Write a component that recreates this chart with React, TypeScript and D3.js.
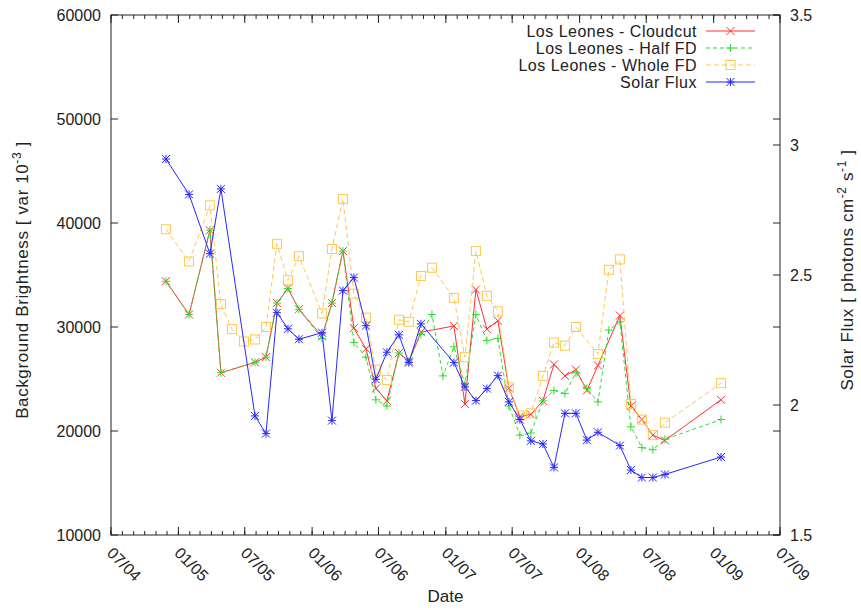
import React from "react";
import * as d3 from "d3";

// Observation months (one entry per data-taking period)
const obsDates = [
  "2004-11-28", "2005-01-30", "2005-03-28", "2005-04-27", "2005-05-27", "2005-06-29",
  "2005-07-29", "2005-08-28", "2005-09-27", "2005-10-27", "2005-11-26", "2006-01-28",
  "2006-02-24", "2006-03-26", "2006-04-25", "2006-05-28", "2006-06-24", "2006-07-24",
  "2006-08-26", "2006-09-22", "2006-10-25", "2006-11-24", "2006-12-24", "2007-01-23",
  "2007-02-22", "2007-03-24", "2007-04-23", "2007-05-23", "2007-06-22", "2007-07-22",
  "2007-08-21", "2007-09-23", "2007-10-23", "2007-11-22", "2007-12-22", "2008-01-21",
  "2008-02-20", "2008-03-21", "2008-04-20", "2008-05-20", "2008-06-19", "2008-07-19",
  "2008-08-21", "2009-01-21",
];

// Background brightness [var 10^-3], null where a period has no value
const cloudcut: (number | null)[] = [
  34400, 31200, 39300, 25600, null, null, 26600, 27100, 32300, 33700, 31700, 29100,
  32300, 37300, 29900, 27900, 24100, 22900, 27500, 26700, 29500, null, null, 30100,
  22600, 33600, 29800, 30600, 24100, 21400, 21600, 22900, 26400, 25300, 25900, 23900,
  26300, null, 31100, 22400, 21100, 19600, 19100, 23000,
];
const halfFD: (number | null)[] = [
  34400, 31200, 39300, 25600, null, null, 26600, 27100, 32300, 33700, 31700, 28900,
  32300, 37300, 28500, 27100, 23000, 22400, 27500, 26700, 29300, 31200, 25300, 28100,
  24500, 31200, 28700, 28900, 22400, 19600, 19800, 22900, 23900, 23600, 25600, 24100,
  22800, 29700, 30500, 20400, 18400, 18200, 19200, 21100,
];
const wholeFD: (number | null)[] = [
  39400, 36300, 41700, 32200, 29800, 28600, 28800, 30000, 38000, 34500, 36800, 31300,
  37500, 42300, 33200, 30900, 25900, 24900, 30700, 30500, 34900, 35700, null, 32800,
  27100, 37300, 33000, 31500, 24200, 21500, 21700, 25300, 28500, 28200, 30000, null,
  27400, 35500, 36500, 22600, 21100, 19600, 20800, 24600,
];
// Solar flux [photons cm^-2 s^-1]
const solarFlux: (number | null)[] = [
  2.946, 2.81, 2.582, 2.831, null, null, 1.958, 1.89, 2.355, 2.293, 2.253, 2.278,
  1.94, 2.44, 2.49, 2.305, 2.099, 2.203, 2.27, 2.163, 2.312, null, null, 2.163,
  2.07, 2.017, 2.063, 2.113, 2.012, 1.944, 1.862, 1.85, 1.76, 1.968, 1.968, 1.865,
  1.895, null, 1.844, 1.75, 1.721, 1.721, 1.733, 1.8,
];

const leftTicks = [10000, 20000, 30000, 40000, 50000, 60000];
const rightTicks = [1.5, 2, 2.5, 3, 3.5];

const W = 861;
const H = 610;
const M = { left: 111, right: 780, top: 15, bottom: 535 };
const FONT = "'Liberation Sans', Arial, Helvetica, sans-serif";
const FS = 16;
const LFS = 17;

type Marker = "x" | "plus" | "square" | "star";

const seriesDefs = [
  { name: "Los Leones - Cloudcut", values: cloudcut, axis: "L", color: "#ff3030", dash: "", marker: "x" as Marker },
  { name: "Los Leones - Half FD", values: halfFD, axis: "L", color: "#30dd30", dash: "4,3", marker: "plus" as Marker },
  { name: "Los Leones - Whole FD", values: wholeFD, axis: "L", color: "#ffc850", dash: "5,3", marker: "square" as Marker },
  { name: "Solar Flux", values: solarFlux, axis: "R", color: "#2828ff", dash: "", marker: "star" as Marker },
];

function MarkerShape({ type, cx, cy, color }: { type: Marker; cx: number; cy: number; color: string }) {
  const s = 4;
  const xs = (
    <>
      <line x1={cx - s} y1={cy - s} x2={cx + s} y2={cy + s} />
      <line x1={cx - s} y1={cy + s} x2={cx + s} y2={cy - s} />
    </>
  );
  const ps = (
    <>
      <line x1={cx - s} y1={cy} x2={cx + s} y2={cy} />
      <line x1={cx} y1={cy - s} x2={cx} y2={cy + s} />
    </>
  );
  return (
    <g stroke={color} strokeWidth={1} fill="none">
      {type === "x" && xs}
      {type === "plus" && ps}
      {type === "square" && <rect x={cx - 4.5} y={cy - 4.5} width={9} height={9} />}
      {type === "star" && (
        <>
          {xs}
          {ps}
        </>
      )}
    </g>
  );
}

export default function App() {
  const parse = d3.timeParse("%Y-%m-%d");
  const dates = obsDates.map((d) => parse(d) as Date);

  const x = d3
    .scaleTime()
    .domain([new Date(2004, 6, 1), new Date(2009, 6, 1)])
    .range([M.left, M.right]);
  const yL = d3.scaleLinear().domain([10000, 60000]).range([M.bottom, M.top]);
  const yR = d3.scaleLinear().domain([1.5, 3.5]).range([M.bottom, M.top]);

  const majorX = d3.timeMonth.every(6)!.range(new Date(2004, 6, 1), new Date(2009, 6, 2));
  const minorX = d3.timeMonth.range(new Date(2004, 6, 1), new Date(2009, 6, 2));
  const fmt = d3.timeFormat("%m/%y");

  const line = d3
    .line<[number, number]>()
    .x((d) => d[0])
    .y((d) => d[1]);

  const series = seriesDefs.map((s) => {
    const sc = s.axis === "L" ? yL : yR;
    const pts: [number, number][] = [];
    s.values.forEach((v, i) => {
      if (v != null) pts.push([x(dates[i]), sc(v)]);
    });
    return { ...s, pts };
  });

  const legendTextX = 697;
  const legendLineX1 = 706;
  const legendLineX2 = 755;
  const legendY0 = 31;
  const legendDy = 17;

  return (
    <svg
      width={W}
      height={H}
      style={{ position: "absolute", left: 0, top: 0, background: "#fff" }}
      fontFamily={FONT}
      fontSize={FS}
    >
      <rect width={W} height={H} fill="#fff" />

      {/* x ticks, bottom and top (mirrored) */}
      <g stroke="#222" strokeWidth={1}>
        {minorX.map((d, i) => (
          <g key={"mx" + i}>
            <line x1={x(d)} x2={x(d)} y1={M.bottom} y2={M.bottom - 4} />
            <line x1={x(d)} x2={x(d)} y1={M.top} y2={M.top + 4} />
          </g>
        ))}
        {majorX.map((d, i) => (
          <g key={"Mx" + i}>
            <line x1={x(d)} x2={x(d)} y1={M.bottom} y2={M.bottom - 8} />
            <line x1={x(d)} x2={x(d)} y1={M.top} y2={M.top + 8} />
          </g>
        ))}
        {leftTicks.map((t, i) => (
          <g key={"yl" + i}>
            <line x1={M.left} x2={M.left + 7} y1={yL(t)} y2={yL(t)} />
            <line x1={M.right} x2={M.right - 7} y1={yL(t)} y2={yL(t)} />
          </g>
        ))}
        {rightTicks.map((t, i) => (
          <line key={"yr" + i} x1={M.right} x2={M.right - 7} y1={yR(t)} y2={yR(t)} />
        ))}
      </g>

      {/* x tick labels, rotated */}
      <g fill="#222">
        {majorX.map((d, i) => {
          const tx = x(d) - 5;
          const ty = 554;
          return (
            <text key={"xl" + i} x={tx} y={ty} transform={`rotate(45 ${tx} ${ty})`}>
              {fmt(d)}
            </text>
          );
        })}
        {leftTicks.map((t, i) => (
          <text key={"ll" + i} x={M.left - 10} y={yL(t)} dy="0.35em" textAnchor="end">
            {t}
          </text>
        ))}
        {rightTicks.map((t, i) => (
          <text key={"rl" + i} x={M.right + 10} y={yR(t)} dy="0.35em">
            {t}
          </text>
        ))}
      </g>

      {/* axis titles */}
      <text x={(M.left + M.right) / 2} y={602} textAnchor="middle" fill="#222" fontSize={LFS}>
        Date
      </text>
      <text
        transform={`translate(28 ${280}) rotate(-90)`}
        textAnchor="middle"
        fill="#222"
        fontSize={LFS}
        letterSpacing={0.6}
      >
        Background Brightness [ var 10
        <tspan dy={-7} fontSize={12}>-3</tspan>
        <tspan dy={7}> ]</tspan>
      </text>
      <text
        transform={`translate(853 ${270}) rotate(-90)`}
        textAnchor="middle"
        fill="#222"
        fontSize={LFS}
        letterSpacing={0.6}
      >
        Solar Flux [ photons cm
        <tspan dy={-7} fontSize={12}>-2</tspan>
        <tspan dy={7}> s</tspan>
        <tspan dy={-7} fontSize={12}>-1</tspan>
        <tspan dy={7}> ]</tspan>
      </text>

      {/* data */}
      {series.map((s, si) => (
        <g key={"s" + si}>
          <path
            d={line(s.pts) || ""}
            fill="none"
            stroke={s.color}
            strokeWidth={1}
            strokeDasharray={s.dash || undefined}
          />
          {s.pts.map((p, i) => (
            <MarkerShape key={i} type={s.marker} cx={p[0]} cy={p[1]} color={s.color} />
          ))}
        </g>
      ))}

      {/* legend */}
      {series.map((s, i) => {
        const ly = legendY0 + i * legendDy;
        return (
          <g key={"lg" + i}>
            <text x={legendTextX} y={ly} dy="0.35em" textAnchor="end" fill="#222" fontSize={FS} letterSpacing={0.5}>
              {s.name}
            </text>
            <line
              x1={legendLineX1}
              x2={legendLineX2}
              y1={ly}
              y2={ly}
              stroke={s.color}
              strokeWidth={1}
              strokeDasharray={s.dash || undefined}
            />
            <MarkerShape type={s.marker} cx={(legendLineX1 + legendLineX2) / 2} cy={ly} color={s.color} />
          </g>
        );
      })}

      {/* frame */}
      <rect
        x={M.left}
        y={M.top}
        width={M.right - M.left}
        height={M.bottom - M.top}
        fill="none"
        stroke="#222"
        strokeWidth={1}
      />
    </svg>
  );
}
